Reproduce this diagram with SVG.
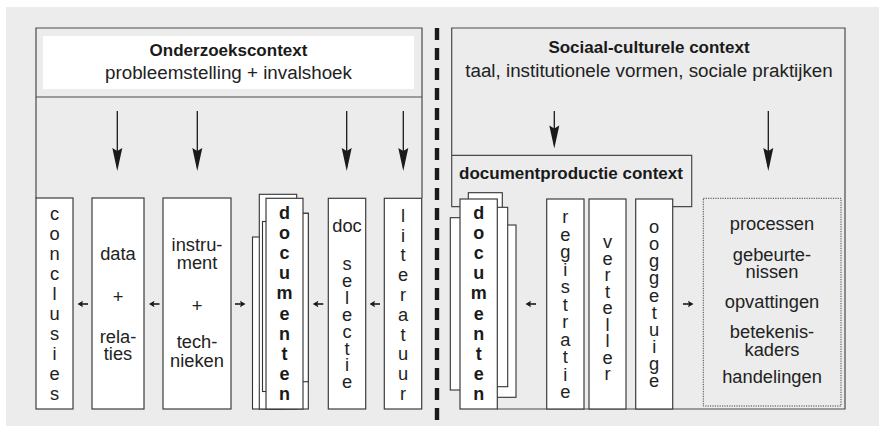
<svg xmlns="http://www.w3.org/2000/svg" width="879" height="426" viewBox="0 0 879 426">
<defs>
<style>
.bx{fill:#fff;stroke:#3c3c3c;stroke-width:1.2}
.pg{fill:#fff;stroke:#333;stroke-width:1.1}
.ol{fill:none;stroke:#4a4a4a;stroke-width:1.2}
.t{font-family:"Liberation Sans",Arial,sans-serif;font-size:18.3px;fill:#222;text-anchor:middle}
.b{font-family:"Liberation Sans",Arial,sans-serif;font-size:18px;font-weight:bold;fill:#1a1a1a;text-anchor:middle}
.h{font-family:"Liberation Sans",Arial,sans-serif;font-size:17px;font-weight:bold;fill:#1a1a1a;text-anchor:middle}
.s{font-family:"Liberation Sans",Arial,sans-serif;font-size:18.8px;fill:#222;text-anchor:middle}
.ar{stroke:#1a1a1a;stroke-width:1.3;fill:none}
.sa{stroke:#1a1a1a;stroke-width:1.6;fill:none}
</style>
<marker id="dn" markerUnits="userSpaceOnUse" orient="auto" overflow="visible" refX="0" refY="0" markerWidth="1" markerHeight="1">
<path d="M4,0 L-19,-5 L-16,0 L-19,5 Z" fill="#1a1a1a"/>
</marker>
<marker id="sm" markerUnits="userSpaceOnUse" orient="auto" overflow="visible" refX="0" refY="0" markerWidth="1" markerHeight="1">
<path d="M1.5,0 L-4,-3.2 L-3,0 L-4,3.2 Z" fill="#1a1a1a"/>
</marker>
</defs>
<rect x="6" y="7" width="873" height="419" fill="#ebeceb"/>
<g id="divider"><line x1="437" y1="28" x2="437" y2="426" stroke="#1a1a1a" stroke-width="4.4" stroke-dasharray="12 8"/></g>

<g id="onderzoekscontext">
<path class="ol" d="M36,198 V28 H422 V198"/>
<line class="ol" x1="36" y1="97" x2="422" y2="97"/>
<rect x="43" y="36" width="371" height="53" fill="#fff"/>
<text class="h" x="228.5" y="56">Onderzoekscontext</text>
<text class="s" x="228.5" y="79">probleemstelling + invalshoek</text>
</g>

<g id="sociaal-culturele-context">
<path class="ol" d="M451.7,155 V28 H845 V409 H497"/>
<text class="h" x="649" y="53">Sociaal-culturele context</text>
<text class="s" x="649" y="77">taal, institutionele vormen, sociale praktijken</text>
</g>

<g id="documentproductie-context">
<path class="ol" d="M460,206.7 H451.7 V155.3 H691.7 V206.7 H673"/>
<text class="h" x="571" y="179">documentproductie context</text>
</g>

<g id="conclusies">
<rect class="bx" x="36" y="198" width="37" height="211"/>
<text class="t"><tspan x="54.5" y="220">c</tspan><tspan x="54.5" y="240">o</tspan><tspan x="54.5" y="260">n</tspan><tspan x="54.5" y="280">c</tspan><tspan x="54.5" y="300">l</tspan><tspan x="54.5" y="320">u</tspan><tspan x="54.5" y="340">s</tspan><tspan x="54.5" y="360">i</tspan><tspan x="54.5" y="380">e</tspan><tspan x="54.5" y="400">s</tspan></text>
</g>

<g id="data-relaties">
<rect class="bx" x="92" y="198" width="52" height="211"/>
<text class="t"><tspan x="118" y="259.5">data</tspan><tspan x="118" y="302.5">+</tspan><tspan x="118" y="343">rela-</tspan><tspan x="118" y="360">ties</tspan></text>
</g>

<g id="instrument-technieken">
<rect class="bx" x="163" y="198" width="68" height="211"/>
<text class="t"><tspan x="197" y="250.5">instru-</tspan><tspan x="197" y="268.5">ment</tspan><tspan x="197" y="312">+</tspan><tspan x="197" y="348">tech-</tspan><tspan x="197" y="366.5">nieken</tspan></text>
</g>

<g id="documenten-links">
<rect class="pg" x="252.5" y="237" width="30" height="172"/>
<rect class="pg" x="259.3" y="194.3" width="37.4" height="214.7"/>
<rect class="pg" x="262.5" y="221.5" width="30" height="170"/>
<rect class="pg" x="271" y="213.3" width="37.3" height="195.7"/>
<rect class="pg" x="271" y="213.3" width="37.3" height="168.4"/>
<rect class="bx" x="266" y="198.3" width="37" height="210.7"/>
<text class="b"><tspan x="284.5" y="219">d</tspan><tspan x="284.5" y="239.1">o</tspan><tspan x="284.5" y="259.2">c</tspan><tspan x="284.5" y="279.3">u</tspan><tspan x="284.5" y="299.4">m</tspan><tspan x="284.5" y="319.5">e</tspan><tspan x="284.5" y="339.6">n</tspan><tspan x="284.5" y="359.7">t</tspan><tspan x="284.5" y="379.8">e</tspan><tspan x="284.5" y="400">n</tspan></text>
</g>

<g id="doc-selectie">
<rect class="bx" x="328.3" y="198.3" width="37.4" height="210.7"/>
<text class="t"><tspan x="347" y="231.7">doc</tspan><tspan x="347" y="270">s</tspan><tspan x="347" y="286.9">e</tspan><tspan x="347" y="303.8">l</tspan><tspan x="347" y="320.7">e</tspan><tspan x="347" y="337.6">c</tspan><tspan x="347" y="354.5">t</tspan><tspan x="347" y="371.4">i</tspan><tspan x="347" y="388.3">e</tspan></text>
</g>

<g id="literatuur">
<rect class="bx" x="384.3" y="198.3" width="37.4" height="210.7"/>
<text class="t"><tspan x="403" y="221.7">l</tspan><tspan x="403" y="241.5">i</tspan><tspan x="403" y="261.3">t</tspan><tspan x="403" y="281.1">e</tspan><tspan x="403" y="300.9">r</tspan><tspan x="403" y="320.7">a</tspan><tspan x="403" y="340.5">t</tspan><tspan x="403" y="360.3">u</tspan><tspan x="403" y="380.1">u</tspan><tspan x="403" y="400">r</tspan></text>
</g>

<g id="documenten-rechts">
<rect class="pg" x="450.3" y="217.7" width="30" height="172.3"/>
<rect class="pg" x="468.3" y="192.7" width="34" height="180"/>
<rect class="pg" x="478" y="225" width="38" height="172.3"/>
<rect class="pg" x="470" y="207.3" width="37.7" height="179.4"/>
<rect class="bx" x="460" y="199" width="37.3" height="210"/>
<text class="b"><tspan x="478.7" y="219">d</tspan><tspan x="478.7" y="239.1">o</tspan><tspan x="478.7" y="259.2">c</tspan><tspan x="478.7" y="279.3">u</tspan><tspan x="478.7" y="299.4">m</tspan><tspan x="478.7" y="319.5">e</tspan><tspan x="478.7" y="339.6">n</tspan><tspan x="478.7" y="359.7">t</tspan><tspan x="478.7" y="379.8">e</tspan><tspan x="478.7" y="400">n</tspan></text>
</g>

<g id="registratie">
<rect class="bx" x="546.7" y="199" width="37.3" height="210"/>
<text class="t"><tspan x="565.3" y="223.3">r</tspan><tspan x="565.3" y="240.8">e</tspan><tspan x="565.3" y="258.3">g</tspan><tspan x="565.3" y="275.8">i</tspan><tspan x="565.3" y="293.3">s</tspan><tspan x="565.3" y="310.8">t</tspan><tspan x="565.3" y="328.3">r</tspan><tspan x="565.3" y="345.8">a</tspan><tspan x="565.3" y="363.3">t</tspan><tspan x="565.3" y="380.8">i</tspan><tspan x="565.3" y="398.3">e</tspan></text>
</g>

<g id="verteller">
<rect class="bx" x="589" y="199" width="37" height="210"/>
<text class="t"><tspan x="607.5" y="248.3">v</tspan><tspan x="607.5" y="264.8">e</tspan><tspan x="607.5" y="281.3">r</tspan><tspan x="607.5" y="297.8">t</tspan><tspan x="607.5" y="314.3">e</tspan><tspan x="607.5" y="330.8">l</tspan><tspan x="607.5" y="347.3">l</tspan><tspan x="607.5" y="363.8">e</tspan><tspan x="607.5" y="380.3">r</tspan></text>
</g>

<g id="ooggetuige">
<rect class="bx" x="635.7" y="199" width="37" height="210"/>
<text class="t"><tspan x="654.2" y="233.3">o</tspan><tspan x="654.2" y="250.3">o</tspan><tspan x="654.2" y="267.4">g</tspan><tspan x="654.2" y="284.4">g</tspan><tspan x="654.2" y="301.5">e</tspan><tspan x="654.2" y="318.5">t</tspan><tspan x="654.2" y="335.6">u</tspan><tspan x="654.2" y="352.6">i</tspan><tspan x="654.2" y="369.7">g</tspan><tspan x="654.2" y="386.7">e</tspan></text>
</g>

<g id="werkelijkheid">
<rect x="703.3" y="198.3" width="137.7" height="207.7" fill="none" stroke="#444" stroke-width="1" stroke-dasharray="1.2 1.2"/>
<text class="t"><tspan x="772" y="230">processen</tspan><tspan x="772" y="261">gebeurte-</tspan><tspan x="772" y="277.7">nissen</tspan><tspan x="772" y="307.7">opvattingen</tspan><tspan x="772" y="338.3">betekenis-</tspan><tspan x="772" y="356">kaders</tspan><tspan x="772" y="383.3">handelingen</tspan></text>
</g>

<g id="connectors">
<line class="ar" x1="117.3" y1="111" x2="117.3" y2="167" marker-end="url(#dn)"/>
<line class="ar" x1="197.3" y1="111" x2="197.3" y2="167" marker-end="url(#dn)"/>
<line class="ar" x1="346.7" y1="111" x2="346.7" y2="167" marker-end="url(#dn)"/>
<line class="ar" x1="403.3" y1="111" x2="403.3" y2="167" marker-end="url(#dn)"/>
<line class="ar" x1="554.3" y1="111" x2="554.3" y2="144.5" marker-end="url(#dn)"/>
<line class="ar" x1="768.3" y1="111" x2="768.3" y2="167" marker-end="url(#dn)"/>
<line class="sa" x1="88" y1="304" x2="79" y2="304" marker-end="url(#sm)"/>
<line class="sa" x1="159.5" y1="304" x2="150.5" y2="304" marker-end="url(#sm)"/>
<line class="sa" x1="235" y1="304" x2="244" y2="304" marker-end="url(#sm)"/>
<line class="sa" x1="323.3" y1="304" x2="314.3" y2="304" marker-end="url(#sm)"/>
<line class="sa" x1="380" y1="304" x2="371" y2="304" marker-end="url(#sm)"/>
<line class="sa" x1="536" y1="304" x2="527" y2="304" marker-end="url(#sm)"/>
<line class="sa" x1="683" y1="304" x2="692" y2="304" marker-end="url(#sm)"/>
</g>
</svg>
